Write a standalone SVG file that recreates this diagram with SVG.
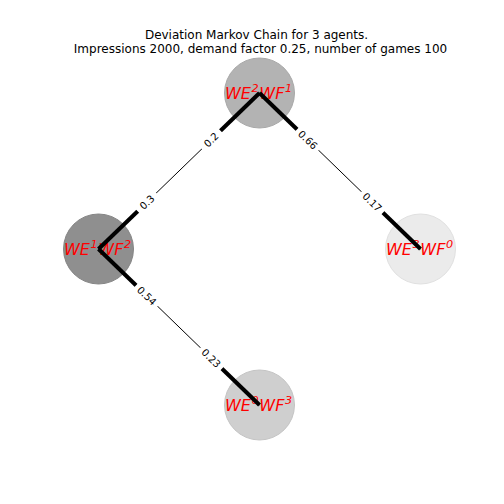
<svg xmlns="http://www.w3.org/2000/svg" width="504" height="504" viewBox="0 0 504 504">
<style>
.title{font-family:"DejaVu Sans",sans-serif;font-size:12px;fill:#000;text-anchor:middle}
.node{stroke-width:1}
.nl{font-family:"DejaVu Sans",sans-serif;font-style:italic;font-size:16px;fill:#ff0000}
.sup{font-size:11.2px}
.thin{stroke:#000;stroke-width:1;fill:none}
.thick{stroke:#000;stroke-width:4;fill:none;stroke-linecap:butt}
.lb{fill:#fff}
.el{font-family:"DejaVu Sans",sans-serif;font-size:10px;fill:#000;text-anchor:middle}
</style>
<rect width="504" height="504" fill="#fff"/>
<text class="title" x="256.5" y="38.8">Deviation Markov Chain for 3 agents.</text>
<text class="title" x="260.5" y="53.2">Impressions 2000, demand factor 0.25, number of games 100</text>
<g id="node-WE2WF1">
<circle class="node" cx="259.5" cy="93" r="35" fill="#b3b3b3" stroke="#a8a8a8"/>
<text class="nl" x="225" y="98.5">WE<tspan class="sup" dx="0.5" dy="-6.5">2</tspan><tspan dx="0.8" dy="6.5">WF</tspan><tspan class="sup" dx="0.5" dy="-6.5">1</tspan></text>
</g>
<g id="node-WE1WF2">
<circle class="node" cx="98.5" cy="249" r="35" fill="#8f8f8f" stroke="#858585"/>
<text class="nl" x="64" y="254.5">WE<tspan class="sup" dx="0.5" dy="-6.5">1</tspan><tspan dx="0.8" dy="6.5">WF</tspan><tspan class="sup" dx="0.5" dy="-6.5">2</tspan></text>
</g>
<g id="node-WE3WF0">
<circle class="node" cx="420.5" cy="249" r="35" fill="#ebebeb" stroke="#e0e0e0"/>
<text class="nl" x="386" y="254.5">WE<tspan class="sup" dx="0.5" dy="-6.5">3</tspan><tspan dx="0.8" dy="6.5">WF</tspan><tspan class="sup" dx="0.5" dy="-6.5">0</tspan></text>
</g>
<g id="node-WE0WF3">
<circle class="node" cx="259.5" cy="405" r="35" fill="#cfcfcf" stroke="#c4c4c4"/>
<text class="nl" x="225" y="410.5">WE<tspan class="sup" dx="0.5" dy="-6.5">0</tspan><tspan dx="0.8" dy="6.5">WF</tspan><tspan class="sup" dx="0.5" dy="-6.5">3</tspan></text>
</g>
<g id="connectors">
<line class="thin" x1="259.5" y1="93" x2="98.5" y2="249"/>
<line class="thin" x1="259.5" y1="93" x2="420.5" y2="249"/>
<line class="thin" x1="98.5" y1="249" x2="259.5" y2="405"/>
<line class="thick" x1="259.5" y1="93" x2="211.2" y2="139.8"/>
<line class="thick" x1="147.0" y1="202.2" x2="98.5" y2="249"/>
<line class="thick" x1="259.5" y1="93" x2="307.8" y2="139.8"/>
<line class="thick" x1="372.2" y1="202.2" x2="420.5" y2="249"/>
<line class="thick" x1="98.5" y1="249" x2="146.8" y2="295.8"/>
<line class="thick" x1="211.2" y1="358.2" x2="259.5" y2="405"/>
<g transform="translate(211.2,139.8) rotate(-44.1)"><rect class="lb" x="-13" y="-8" width="26" height="16" rx="3"/><text class="el" y="3.6">0.2</text></g>
<g transform="translate(147.0,202.2) rotate(-44.1)"><rect class="lb" x="-13" y="-8" width="26" height="16" rx="3"/><text class="el" y="3.6">0.3</text></g>
<g transform="translate(307.8,139.8) rotate(44.1)"><rect class="lb" x="-15" y="-8" width="30" height="16" rx="3"/><text class="el" y="3.6">0.66</text></g>
<g transform="translate(372.2,202.2) rotate(44.1)"><rect class="lb" x="-15" y="-8" width="30" height="16" rx="3"/><text class="el" y="3.6">0.17</text></g>
<g transform="translate(146.8,295.8) rotate(44.1)"><rect class="lb" x="-15" y="-8" width="30" height="16" rx="3"/><text class="el" y="3.6">0.54</text></g>
<g transform="translate(211.2,358.2) rotate(44.1)"><rect class="lb" x="-15" y="-8" width="30" height="16" rx="3"/><text class="el" y="3.6">0.23</text></g>
</g>
</svg>
